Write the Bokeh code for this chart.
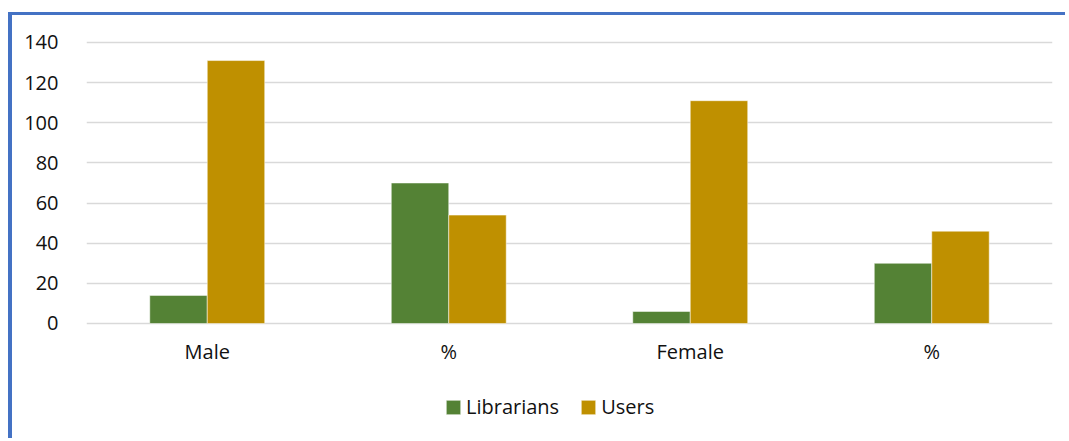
import numpy as np
from bokeh.plotting import figure
from bokeh.models import Range1d, FixedTicker, ColumnDataSource, Legend, LegendItem
from bokeh.transform import dodge
from bokeh.core.properties import value
from bokeh.embed import file_html
from bokeh.resources import INLINE

categories = ["Male", "%", "Female", "%"]
librarians = [14, 70, 6, 30]
users = [131, 54, 111, 46]
y_ticks = [0, 20, 40, 60, 80, 100, 120, 140]

FONT = "Open Sans"
GREEN = "#548235"
GOLD = "#BF9000"

xpos = np.arange(len(categories)) + 0.5
src = ColumnDataSource(dict(x=xpos, cat=categories, lib=librarians, usr=users,
                            ylab=[-14.2] * len(categories)))

W, H = 1057, 426
p = figure(width=W, height=H, output_backend="svg", toolbar_location=None,
           x_range=Range1d(0, len(categories)), y_range=Range1d(-58.8, 153.45),
           min_border_left=74, min_border_right=17, min_border_top=0, min_border_bottom=0)
p.styles = {"margin-top": "12px", "margin-left": "8px",
            "border-top": "3px solid #4472C4", "border-left": "4px solid #4472C4"}
p.outline_line_color = None
p.background_fill_color = "white"
p.border_fill_color = "white"

p.xaxis.visible = False
p.xgrid.visible = False
p.yaxis.ticker = FixedTicker(ticks=y_ticks)
p.ygrid.ticker = FixedTicker(ticks=y_ticks)
p.ygrid.grid_line_color = "#D9D9D9"
p.ygrid.grid_line_width = 1.5
p.yaxis.axis_line_color = None
p.yaxis.major_tick_line_color = None
p.yaxis.minor_tick_line_color = None
p.yaxis.major_label_text_font = FONT
p.yaxis.major_label_text_font_size = "20px"
p.yaxis.major_label_text_color = "#111111"
p.yaxis.major_label_standoff = 22

bw = 0.238
r1 = p.vbar(x=dodge("x", -bw / 2, range=p.x_range), top="lib", width=bw, bottom=0,
            source=src, fill_color=GREEN, line_color="white", line_alpha=0.5, line_width=1)
r2 = p.vbar(x=dodge("x", bw / 2, range=p.x_range), top="usr", width=bw, bottom=0,
            source=src, fill_color=GOLD, line_color="white", line_alpha=0.5, line_width=1)

p.text(x="x", y="ylab", text="cat", source=src, text_font=value(FONT),
       text_font_size="20px", text_align="center", text_baseline="middle",
       text_color="#111111")

legend = Legend(items=[LegendItem(label="Librarians", renderers=[r1]),
                       LegendItem(label="Users", renderers=[r2])],
                orientation="horizontal", location=(358, 21),
                glyph_width=18, glyph_height=18, label_standoff=4, spacing=20,
                padding=0, margin=0, border_line_color=None,
                background_fill_alpha=0, label_text_font=FONT,
                label_text_font_size="20px", label_text_color="#111111")
p.add_layout(legend)

open("out.html", "w").write(file_html(p, INLINE))
